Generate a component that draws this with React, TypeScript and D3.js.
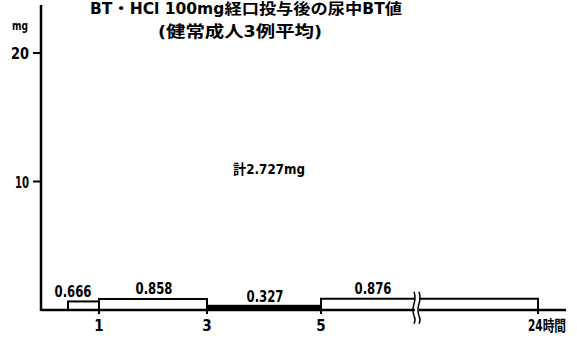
import React from "react";
import * as d3 from "d3";

const titleLines = ["BT・HCl 100mg経口投与後の尿中BT値", "(健常成人3例平均)"];
const intervalStarts = [0, 1, 3, 5];
const intervalEnds = [1, 3, 5, 24];
const amounts = [0.666, 0.858, 0.327, 0.876];
const amountLabels = ["0.666", "0.858", "0.327", "0.876"];
const xTicks = [1, 3, 5, 24];
const xTickLabels = ["1", "3", "5", "24時間"];
const yTicks = [10, 20];
const totalLabel = "計2.727mg";
const yUnit = "mg";

const W = 577;
const H = 340;
const FONT = "'DejaVu Sans Condensed', 'Liberation Sans Narrow', 'DejaVu Sans', 'Noto Sans CJK JP', sans-serif";
const CJK = "'DejaVu Sans Condensed', 'Noto Sans CJK JP', sans-serif";

export default function App() {
  const x = d3.scaleLinear().domain([0, 1, 3, 5, 24]).range([68, 99, 207, 321, 538]);
  const y = d3.scaleLinear().domain([0, 20]).range([310, 53]);
  const axisX = 41;
  const baseY = y(0);
  const breakX = 417;

  const labelDy = [-4, -5, -4, -5];
  const labelX = [73, 154, 265, 373];

  return (
    <svg width={W} height={H} style={{ position: "absolute", left: 0, top: 0, background: "#fff" }}>
      {/* title */}
      <text x={246} y={14} textAnchor="middle" fontFamily={CJK} fontWeight="bold" fontSize={15} fill="#000" textLength={312} lengthAdjust="spacingAndGlyphs">
        {titleLines[0]}
      </text>
      <text x={240} y={37} textAnchor="middle" fontFamily={CJK} fontWeight="bold" fontSize={16} fill="#000" textLength={164} lengthAdjust="spacingAndGlyphs">
        {titleLines[1]}
      </text>

      {/* y axis */}
      <line x1={axisX} x2={axisX} y1={5} y2={baseY + 1} stroke="#000" strokeWidth={2.5} />
      <text x={20} y={30} textAnchor="middle" fontFamily={FONT} fontWeight="bold" fontSize={13} fill="#000" textLength={16} lengthAdjust="spacingAndGlyphs">{yUnit}</text>
      {yTicks.map((t) => (
        <g key={t}>
          <line x1={33} x2={axisX} y1={y(t)} y2={y(t)} stroke="#000" strokeWidth={2} />
          <text x={29} y={y(t) + 6} textAnchor="end" fontFamily={FONT} fontWeight="bold" fontSize={16} fill="#000"
            textLength={t === 10 ? 14 : 18} lengthAdjust="spacingAndGlyphs">{t}</text>
        </g>
      ))}

      {/* bars */}
      {amounts.map((v, i) => {
        const x0 = x(intervalStarts[i]);
        const x1 = x(intervalEnds[i]);
        const top = y(v);
        return (
          <rect key={i} x={x0} y={top} width={x1 - x0} height={baseY - top}
            fill={i === 2 ? "#000" : "#fff"} stroke="#000" strokeWidth={2} />
        );
      })}

      {/* x axis */}
      <line x1={axisX} x2={566} y1={baseY} y2={baseY} stroke="#000" strokeWidth={2.5} />
      {xTicks.map((t, i) => (
        <g key={t}>
          <line x1={x(t)} x2={x(t)} y1={baseY} y2={baseY + 4} stroke="#000" strokeWidth={2} />
          <text x={i === 3 ? x(t) - 10 : x(t)} y={331} textAnchor={i === 3 ? "start" : "middle"} fontFamily={CJK} fontWeight="bold" fontSize={15} fill="#000"
            textLength={i === 3 ? 38 : undefined} lengthAdjust="spacingAndGlyphs">
            {xTickLabels[i]}
          </text>
        </g>
      ))}

      {/* axis break */}
      <rect x={breakX - 2} y={y(amounts[3]) - 6} width={4} height={baseY - y(amounts[3]) + 10} fill="#fff" />
      <path d={`M${breakX - 3},${y(amounts[3]) - 7} q2,6 0,12 q-2,6 0,12 q2,4 0,8`} fill="none" stroke="#000" strokeWidth={1.5} />
      <path d={`M${breakX + 2},${y(amounts[3]) - 7} q2,6 0,12 q-2,6 0,12 q2,4 0,8`} fill="none" stroke="#000" strokeWidth={1.5} />

      {/* value labels */}
      {amountLabels.map((l, i) => (
        <text key={i} x={labelX[i]} y={y(amounts[i]) + labelDy[i]} textAnchor="middle" fontFamily={FONT} fontWeight="bold" fontSize={15} fill="#000"
          textLength={37} lengthAdjust="spacingAndGlyphs">
          {l}
        </text>
      ))}

      {/* total */}
      <text x={233} y={174} fontFamily={CJK} fontWeight="bold" fontSize={14} fill="#000" textLength={72} lengthAdjust="spacingAndGlyphs">{totalLabel}</text>
    </svg>
  );
}
